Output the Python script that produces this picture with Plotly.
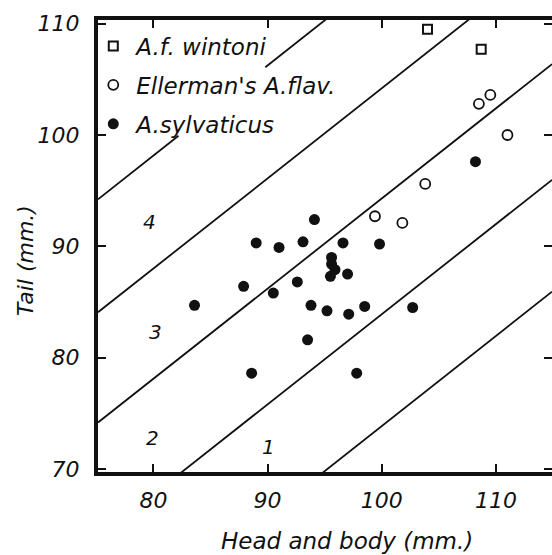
import numpy as np
import plotly.graph_objects as go

# ---------------- data ----------------
wintoni_hb = [104.0, 108.7]
wintoni_tail = [109.5, 107.7]

ellerman_hb = [99.4, 101.8, 103.8, 108.5, 109.5, 111.0]
ellerman_tail = [92.7, 92.1, 95.6, 102.8, 103.6, 100.0]

sylv_hb = [108.2, 94.1, 89.0, 91.0, 93.1, 96.6, 99.8, 95.6, 95.6, 95.9, 95.5,
           97.0, 87.9, 90.5, 92.6, 83.6, 93.8, 95.2, 97.1, 98.5, 102.7, 93.5,
           88.6, 97.8]
sylv_tail = [97.6, 92.4, 90.3, 89.9, 90.4, 90.3, 90.2, 89.0, 88.4, 87.9, 87.3,
             87.5, 86.4, 85.8, 86.8, 84.7, 84.7, 84.2, 83.9, 84.6, 84.5, 81.6,
             78.6, 78.6]

# dividing lines: tail = slope * hb + intercept
line_slope = 0.81
line_intercepts = [-7.15, 2.9, 13.3, 23.2, 33.35]
# part of the top line hidden behind the legend text (head-and-body values)
line_gap = [82.2, 89.8]

region_labels = ["1", "2", "3", "4"]
region_hb = [90.1, 79.9, 80.15, 79.7]
region_tail = [72.0, 72.75, 82.3, 92.2]

x_ticks = [80, 90, 100, 110]
y_ticks = [70, 80, 90, 100, 110]
x_range = [75.15, 114.9]
y_range = [69.72, 110.33]

# ---------------- figure ----------------
INK = "#111111"
FONT = "DejaVu Sans"

fig = go.Figure()

for i, c in enumerate(line_intercepts):
    if i == len(line_intercepts) - 1:
        xs = [x_range[0], line_gap[0], None, line_gap[1], x_range[1]]
    else:
        xs = [x_range[0], x_range[1]]
    ys = [None if x is None else line_slope * x + c for x in xs]
    fig.add_trace(go.Scatter(x=xs, y=ys, mode="lines", showlegend=False,
                             line=dict(color=INK, width=1.8), hoverinfo="skip"))

fig.add_trace(go.Scatter(
    x=wintoni_hb, y=wintoni_tail, mode="markers", name="A.f. wintoni",
    legendgroup="a",
    marker=dict(symbol="square-open", size=9, color=INK, line=dict(width=2, color=INK))))
fig.add_trace(go.Scatter(
    x=ellerman_hb, y=ellerman_tail, mode="markers", name="Ellerman's A.flav.",
    legendgroup="b",
    marker=dict(symbol="circle-open", size=10, color=INK, line=dict(width=1.8, color=INK))))
fig.add_trace(go.Scatter(
    x=sylv_hb, y=sylv_tail, mode="markers", name="A.sylvaticus",
    legendgroup="c",
    marker=dict(symbol="circle", size=11, color=INK, line=dict(width=0))))

# invisible trace on the right-hand tick axis
fig.add_trace(go.Scatter(x=[], y=[], yaxis="y2", showlegend=False))

for t, x, y in zip(region_labels, region_hb, region_tail):
    fig.add_annotation(x=x, y=y, text=t, showarrow=False,
                       font=dict(family=FONT, size=20, color=INK, style="italic"))

fig.add_annotation(xref="paper", yref="paper", x=0.548, y=-0.152,
                   text="Head and body (mm.)", showarrow=False,
                   xanchor="center", yanchor="middle",
                   font=dict(family=FONT, size=23, color=INK, style="italic"))
fig.add_annotation(xref="paper", yref="paper", x=-0.161, y=0.469,
                   text="Tail (mm.)", showarrow=False, textangle=-90,
                   xanchor="center", yanchor="middle",
                   font=dict(family=FONT, size=22, color=INK, style="italic"))

axis_common = dict(ticks="inside", ticklen=8, tickwidth=2, tickcolor=INK,
                   showgrid=False, zeroline=False, showline=True,
                   linecolor=INK, linewidth=4,
                   tickfont=dict(family=FONT, size=22, color=INK, style="italic"))

fig.update_layout(
    width=552, height=555,
    margin=dict(l=98, r=0, t=20, b=83),
    paper_bgcolor="white", plot_bgcolor="white",
    showlegend=True,
    legend=dict(x=-0.017, y=0.99, xanchor="left", yanchor="top",
                bgcolor="rgba(0,0,0,0)", traceorder="grouped",
                tracegroupgap=6, itemwidth=36,
                font=dict(family=FONT, size=23, color=INK, style="italic")),
    xaxis=dict(range=x_range, tickvals=x_ticks, mirror="ticks",
               ticklabelstandoff=6, **axis_common),
    yaxis=dict(range=y_range, tickvals=y_ticks, mirror=False,
               ticklabelstandoff=10, **axis_common),
    yaxis2=dict(overlaying="y", side="right", matches="y", range=y_range,
                tickvals=y_ticks, ticks="inside", ticklen=8, tickwidth=2,
                tickcolor=INK, showticklabels=False, showline=False,
                showgrid=False, zeroline=False),
)

fig.write_html("out.html")
